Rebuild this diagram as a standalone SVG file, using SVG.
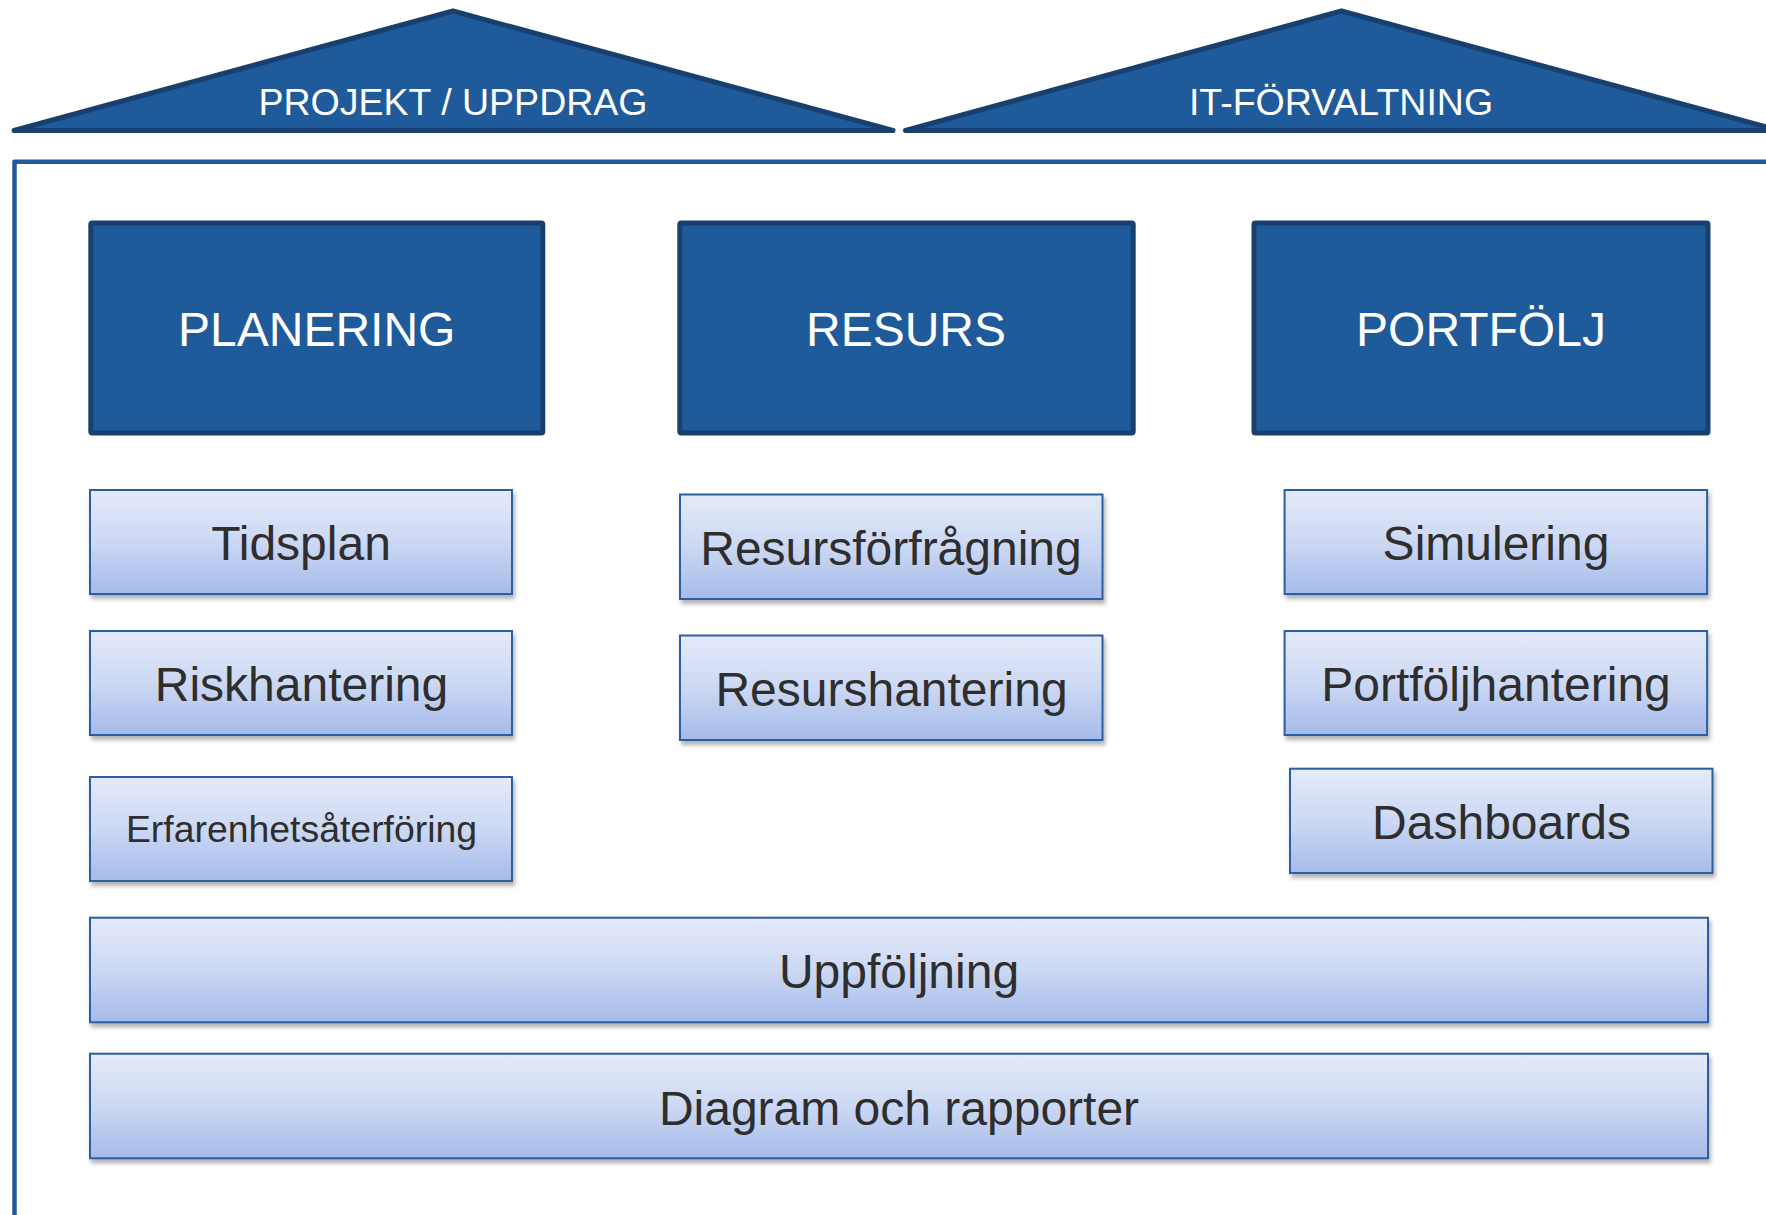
<svg xmlns="http://www.w3.org/2000/svg" width="1766" height="1215" viewBox="0 0 1766 1215">
  <style>
    .roof { fill: #1F5A9A; stroke: #17406E; stroke-width: 5; stroke-linejoin: round; stroke-linecap: round; }
    .roofText { font-family: "Liberation Sans", Arial, sans-serif; font-size: 37.5px; fill: #FFFFFF; text-anchor: middle; }
    .head { fill: #1F5A9A; stroke: #17406E; stroke-width: 5; }
    .headText { font-family: "Liberation Sans", Arial, sans-serif; font-size: 48px; fill: #FFFFFF; text-anchor: middle; }
    .item { fill: url(#itemGrad); stroke: #2A5FA5; stroke-width: 2; filter: url(#shadow); }
    .itemText { font-family: "Liberation Sans", Arial, sans-serif; font-size: 48px; fill: #2E2E2E; text-anchor: middle; }
    .frame { fill: none; stroke: #1F5A9A; stroke-width: 4.5; stroke-linejoin: round; }
  </style>
  <defs>
    <linearGradient id="itemGrad" x1="0" y1="0" x2="0" y2="1">
      <stop offset="0" stop-color="#E4EAF9"/>
      <stop offset="0.5" stop-color="#CCD8F3"/>
      <stop offset="1" stop-color="#A5BBEA"/>
    </linearGradient>
    <filter id="shadow" x="-5%" y="-10%" width="115%" height="130%">
      <feDropShadow dx="2" dy="4" stdDeviation="2.2" flood-color="#000000" flood-opacity="0.3"/>
    </filter>
  </defs>
  <rect x="0" y="0" width="1766" height="1215" fill="#FFFFFF"/>

  <!-- frame -->
  <path class="frame" d="M14.5,1225 V161.7 H1775"/>

  <!-- roofs -->
  <g id="roof-projekt">
    <path class="roof" d="M14,130.5 L453,11 L893,130.5 Z"/>
    <text class="roofText" x="453" y="115">PROJEKT / UPPDRAG</text>
  </g>
  <g id="roof-it">
    <path class="roof" d="M905.5,130.5 L1341.5,11 L1779,130.5 Z"/>
    <text class="roofText" x="1341" y="115">IT-FÖRVALTNING</text>
  </g>

  <!-- header boxes -->
  <g id="planering">
    <rect class="head" x="90.8" y="223" width="452" height="210" rx="1.5"/>
    <text class="headText" x="316.7" y="346">PLANERING</text>
  </g>
  <g id="resurs">
    <rect class="head" x="679.8" y="223" width="453.4" height="210" rx="1.5"/>
    <text class="headText" x="906" y="346">RESURS</text>
  </g>
  <g id="portfolj">
    <rect class="head" x="1254" y="223" width="454" height="210" rx="1.5"/>
    <text class="headText" x="1481" y="346">PORTFÖLJ</text>
  </g>

  <!-- planering items -->
  <g id="tidsplan">
    <rect class="item" x="90" y="490" width="422" height="104"/>
    <text class="itemText" x="301" y="560">Tidsplan</text>
  </g>
  <g id="riskhantering">
    <rect class="item" x="90" y="631" width="422" height="104"/>
    <text class="itemText" x="301.5" y="701">Riskhantering</text>
  </g>
  <g id="erfarenhet">
    <rect class="item" x="90" y="777" width="422" height="104"/>
    <text class="itemText" x="301.5" y="842" style="font-size:37.4px">Erfarenhetsåterföring</text>
  </g>

  <!-- resurs items -->
  <g id="resursforfragning">
    <rect class="item" x="680" y="494.5" width="422.5" height="104.5"/>
    <text class="itemText" x="891" y="565">Resursförfrågning</text>
  </g>
  <g id="resurshantering">
    <rect class="item" x="680" y="635.5" width="422.5" height="104.5"/>
    <text class="itemText" x="891.5" y="705.5">Resurshantering</text>
  </g>

  <!-- portfolj items -->
  <g id="simulering">
    <rect class="item" x="1284.6" y="490" width="422.5" height="104"/>
    <text class="itemText" x="1496" y="560">Simulering</text>
  </g>
  <g id="portfoljhantering">
    <rect class="item" x="1284.6" y="631" width="422.5" height="104"/>
    <text class="itemText" x="1496" y="701">Portföljhantering</text>
  </g>
  <g id="dashboards">
    <rect class="item" x="1290" y="768.7" width="422.5" height="104.3"/>
    <text class="itemText" x="1501.5" y="839">Dashboards</text>
  </g>

  <!-- wide bars -->
  <g id="uppfoljning">
    <rect class="item" x="90" y="917.7" width="1618" height="104.6"/>
    <text class="itemText" x="899" y="988">Uppföljning</text>
  </g>
  <g id="diagram">
    <rect class="item" x="90" y="1053.7" width="1618" height="104.6"/>
    <text class="itemText" x="899" y="1125">Diagram och rapporter</text>
  </g>

  <g id="connectors"></g>
</svg>
